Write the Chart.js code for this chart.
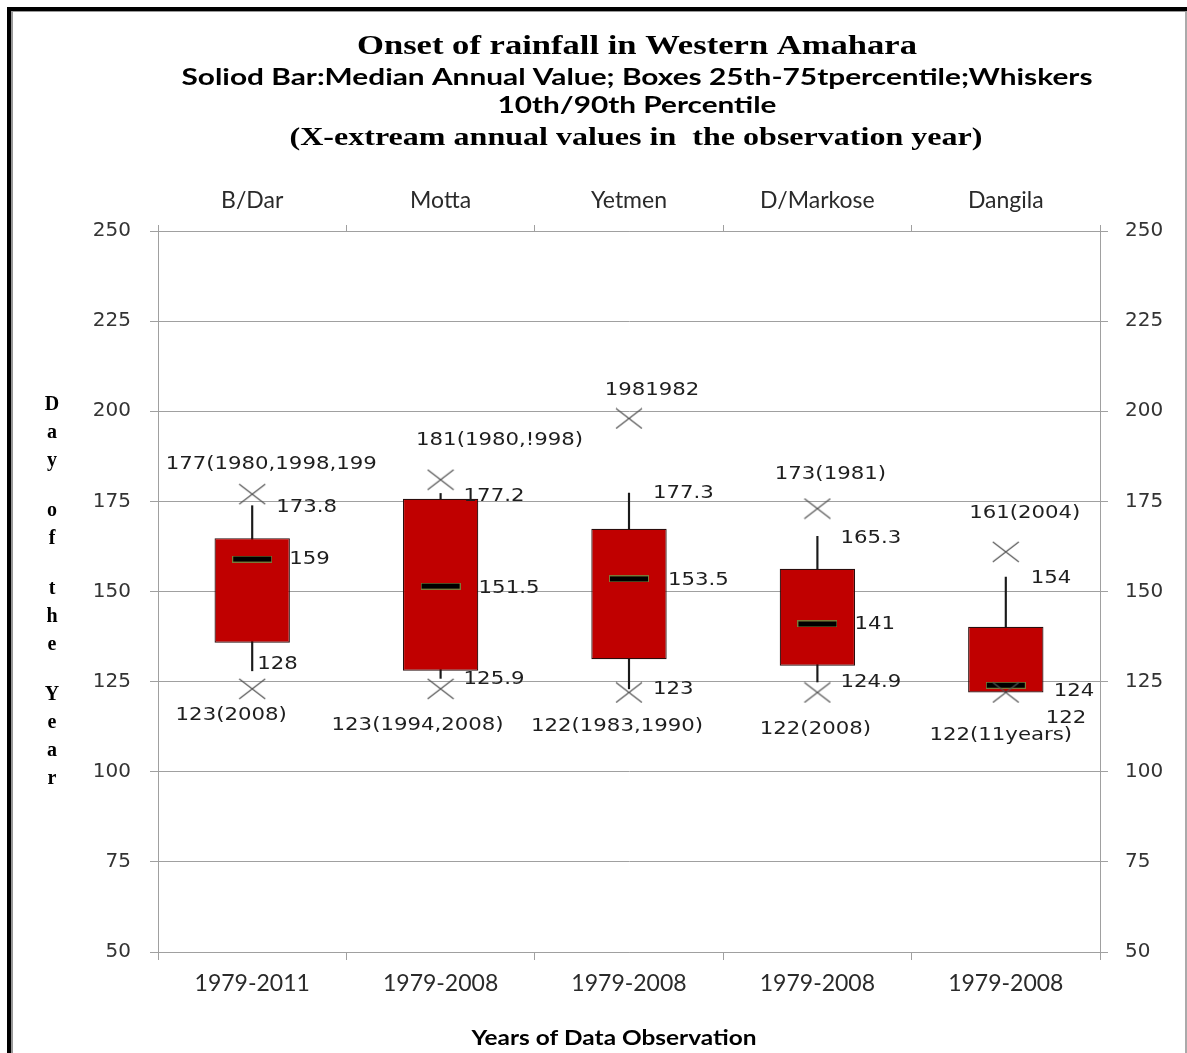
<!DOCTYPE html>
<html lang="en">
<head>
  <meta charset="UTF-8" />
  <title>Onset of rainfall in Western Amahara</title>
  <script src="https://cdn.jsdelivr.net/npm/chart.js"></script>
  <style>
    body { margin: 0; background: #fff; }
    .frame {
      position: absolute; left: 7px; top: 7px; width: 1180px; height: 1046px;
      border-top: 4px solid #000; border-left: 4px solid #000; box-sizing: border-box;
    }
    .frame-inner {
      position: absolute; left: 0; top: 0; right: 0; bottom: 0;
      border-top: 1px solid #999; border-left: 2px solid #999; border-right: 2px solid #aaa;
    }
    .chart-box { position: absolute; left: 0; top: 0; width: 1187px; height: 1053px; }
  </style>
</head>
<body>
  <div class="frame"><div class="frame-inner"></div></div>
  <div class="chart-box"><canvas id="onsetChart"></canvas></div>

  <script>
    // Stations and observation periods
    const stations = ["B/Dar", "Motta", "Yetmen", "D/Markose", "Dangila"];
    const periods = ["1979-2011", "1979-2008", "1979-2008", "1979-2008", "1979-2008"];

    // Onset day of year: percentiles and extremes per station
    const p10 = [128, 125.9, 123, 124.9, 122];
    const q1 = [135.8, 128, 131.2, 129.4, 122];
    const median = [159, 151.5, 153.5, 141, 124];
    const q3 = [164.8, 175.7, 167.4, 156.3, 140.2];
    const p90 = [173.8, 177.2, 177.3, 165.3, 154];
    const highExtreme = [177, 181, 198, 173, 161];
    const lowExtreme = [123, 123, 122, 122, 122];
    const highNotes = ["177(1980,1998,199", "181(1980,!998)", "1981982", "173(1981)", "161(2004)"];
    const lowNotes = ["123(2008)", "123(1994,2008)", "122(1983,1990)", "122(2008)", "122(11years)"];

    const yMin = 50, yMax = 250, yStep = 25;

    // marker images
    function makeCross(w, h) {
      const c = document.createElement("canvas");
      c.width = w; c.height = h;
      const g = c.getContext("2d");
      g.strokeStyle = "#555";
      g.lineWidth = 1.2;
      g.beginPath();
      g.moveTo(1, 1); g.lineTo(w - 1, h - 1);
      g.moveTo(1, h - 1); g.lineTo(w - 1, 1);
      g.stroke();
      return c;
    }
    function makeMedianBar(w, h) {
      const c = document.createElement("canvas");
      c.width = w; c.height = h;
      const g = c.getContext("2d");
      g.fillStyle = "#7a7a38";
      g.fillRect(0, 0, w, h);
      g.fillStyle = "#000";
      g.fillRect(1, 1, w - 2, h - 2);
      return c;
    }

    function stretchText(ctx, text, x, y, sx, align) {
      ctx.save();
      ctx.translate(x, y);
      ctx.scale(sx, 1);
      ctx.textAlign = align;
      ctx.fillText(text, 0, 0);
      ctx.restore();
    }
    function fitText(ctx, text, cx, cy, width) {
      const sx = width / ctx.measureText(text).width;
      stretchText(ctx, text, cx, cy, sx, "center");
    }

    // title block, stacked y title and x title
    const titlesPlugin = {
      id: "titles",
      afterDraw(chart) {
        const ctx = chart.ctx;
        ctx.save();
        ctx.fillStyle = "#000";
        ctx.textBaseline = "middle";
        ctx.font = 'bold 27px "Liberation Serif"';
        fitText(ctx, "Onset of rainfall in Western Amahara", 637, 47, 560);
        ctx.font = 'bold 22px Lato';
        fitText(ctx, "Soliod Bar:Median Annual Value; Boxes 25th-75tpercentile;Whiskers", 637, 78, 911);
        fitText(ctx, "10th/90th Percentile", 637, 106, 279);
        ctx.font = 'bold 26px "Liberation Serif"';
        fitText(ctx, "(X-extream annual values in  the observation year)", 636, 138, 693);

        ctx.font = 'bold 21px Lato';
        fitText(ctx, "Years of Data Observation", 614, 1038, 285);

        ctx.font = 'bold 20px "Liberation Serif"';
        ctx.textAlign = "center";
        let y = 405;
        for (const ch of "Day of the Year") {
          if (ch === " ") { y += 22; continue; }
          ctx.fillText(ch, 52, y);
          y += 28;
        }
        ctx.restore();
      }
    };

    // value labels around each box
    const nudge = {
      high:  { dx: [19, 59, 23, 13, 19],   dy: [-30, -39, -28, -34, -38] },
      upper: { dx: [24, 23, 24, 23, 25],   dy: [2, 3, 0, 2, 1] },
      mid:   { dx: [37, 38, 39, 37, 48],   dy: [1, 2, 2, 1, 6] },
      lower: { dx: [5, 23, 24, 23, 40],    dy: [-6, 1, 1, 1, 26] },
      low:   { dx: [-21, -23, -12, -2, -5], dy: [27, 37, 34, 37, 43] }
    };
    const valueLabelsPlugin = {
      id: "valueLabels",
      afterDatasetsDraw(chart) {
        const ctx = chart.ctx;
        const xs = chart.scales.x, ys = chart.scales.y;
        ctx.save();
        ctx.font = '17px "DejaVu Sans"';
        ctx.fillStyle = "#1e1e1e";
        ctx.textBaseline = "middle";
        const sx = 1.25;
        stations.forEach((s, i) => {
          const cx = xs.getPixelForValue(i);
          const put = (key, value, text, align) => {
            stretchText(ctx, text, cx + nudge[key].dx[i], ys.getPixelForValue(value) + nudge[key].dy[i], sx, align);
          };
          put("high", highExtreme[i], highNotes[i], "center");
          put("upper", p90[i], String(p90[i]), "left");
          put("mid", median[i], String(median[i]), "left");
          put("lower", p10[i], String(p10[i]), "left");
          put("low", lowExtreme[i], lowNotes[i], "center");
        });
        ctx.restore();
      }
    };

    const crossMark = makeCross(28, 22);
    const medianMark = makeMedianBar(40, 7);
    const gridGrey = "#a0a0a0";
    const tickFont = { family: "DejaVu Sans", size: 20 };
    const catFont = { family: "Lato", size: 23 };

    const ctx = document.getElementById("onsetChart").getContext("2d");
    new Chart(ctx, {
      type: "bar",
      data: {
        labels: periods,
        datasets: [
          {
            type: "line",
            label: "Extreme high",
            data: highExtreme,
            showLine: false,
            pointStyle: crossMark,
            pointRadius: 5,
            order: 0
          },
          {
            type: "line",
            label: "Extreme low",
            data: lowExtreme,
            showLine: false,
            pointStyle: crossMark,
            pointRadius: 5,
            order: 0
          },
          {
            type: "line",
            label: "Median",
            data: median,
            showLine: false,
            pointStyle: medianMark,
            pointRadius: 5,
            order: 1
          },
          {
            label: "25th-75th percentile",
            data: q1.map((v, i) => [v, q3[i]]),
            backgroundColor: "#C00000",
            borderColor: "#2a0d0d",
            borderWidth: 1.2,
            borderSkipped: false,
            barPercentage: 0.4,
            categoryPercentage: 1,
            grouped: false,
            order: 2
          },
          {
            label: "10th-90th percentile",
            data: p10.map((v, i) => [v, p90[i]]),
            backgroundColor: "#1a1a1a",
            borderWidth: 0,
            barThickness: 1.5,
            grouped: false,
            order: 3
          }
        ]
      },
      options: {
        responsive: true,
        maintainAspectRatio: false,
        animation: false,
        events: [],
        layout: { padding: 0 },
        plugins: {
          legend: { display: false },
          tooltip: { enabled: false },
          title: { display: false }
        },
        scales: {
          x: {
            type: "category",
            position: "bottom",
            grid: { offset: true, drawOnChartArea: false, tickLength: 8, color: gridGrey },
            border: { color: gridGrey },
            ticks: { font: catFont, color: "#2a2a2a", padding: 10, maxRotation: 0, autoSkip: false },
            afterFit(scale) { scale.height = 101; }
          },
          xTop: {
            type: "category",
            position: "top",
            labels: stations,
            grid: { offset: true, drawOnChartArea: false, tickLength: 6, color: gridGrey },
            border: { color: gridGrey },
            ticks: { font: catFont, color: "#2a2a2a", padding: 11, maxRotation: 0, autoSkip: false },
            afterFit(scale) { scale.height = 231; }
          },
          y: {
            position: "left",
            min: yMin,
            max: yMax,
            grid: { color: gridGrey, tickLength: 8 },
            border: { color: gridGrey },
            ticks: { stepSize: yStep, font: tickFont, color: "#333", padding: 19 },
            afterFit(scale) { scale.width = 158; }
          },
          y2: {
            position: "right",
            min: yMin,
            max: yMax,
            grid: { drawOnChartArea: false, color: gridGrey, tickLength: 8 },
            border: { color: gridGrey },
            ticks: { stepSize: yStep, font: tickFont, color: "#333", padding: 17 },
            afterFit(scale) { scale.width = 87; }
          }
        }
      },
      plugins: [titlesPlugin, valueLabelsPlugin]
    });
  </script>
</body>
</html>
